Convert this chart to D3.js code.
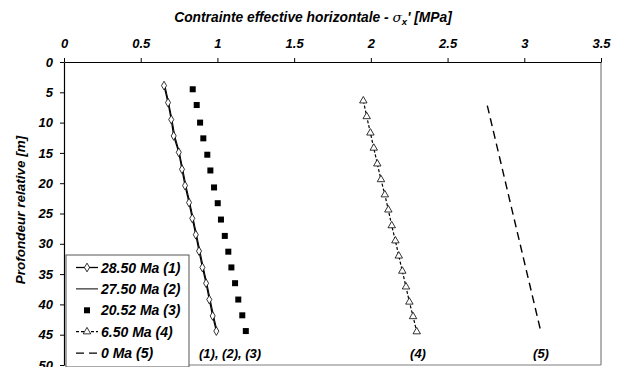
<!DOCTYPE html>
<meta charset="utf-8">
<style>
  body { margin: 0; background: #fff; }
  svg { display: block; }
  text { font-family: "Liberation Sans", Arial, sans-serif; font-weight: bold; font-style: italic; }
  .axis text { font-size: 13px; fill: #000; }
  .axis path, .axis line { stroke: #000; }
</style>
<svg width="617" height="367"></svg>
<script src="https://d3js.org/d3.v7.min.js"></script>
<script>
  // values (x = stress in MPa, depth in m)
  var xTicks = [0, 0.5, 1, 1.5, 2, 2.5, 3, 3.5];
  var yTicks = [0, 5, 10, 15, 20, 25, 30, 35, 40, 45, 50];

  var depth1 = [3.9, 6.7, 9.5, 12.2, 14.9, 17.7, 20.4, 23.2, 25.8, 28.5, 31.2, 33.9, 36.5, 39.2, 41.9, 44.4];
  var s1 = [0.652, 0.678, 0.699, 0.715, 0.748, 0.769, 0.789, 0.815, 0.836, 0.859, 0.880, 0.902, 0.926, 0.947, 0.969, 0.993];
  var s2 = [0.658, 0.682, 0.704, 0.722, 0.752, 0.774, 0.795, 0.820, 0.842, 0.864, 0.886, 0.908, 0.931, 0.953, 0.975, 0.998];
  var depth3 = [4.5, 7.1, 10.0, 12.6, 15.3, 17.9, 20.7, 23.3, 26.0, 28.7, 31.3, 33.9, 36.5, 39.2, 41.8, 44.4];
  var s3 = [0.839, 0.865, 0.887, 0.908, 0.934, 0.954, 0.978, 1.002, 1.023, 1.048, 1.071, 1.091, 1.115, 1.136, 1.162, 1.185];
  var depth4 = [6.4, 9.0, 11.7, 14.2, 16.8, 19.4, 21.9, 24.4, 27.0, 29.5, 32.0, 34.5, 37.1, 39.6, 42.0, 44.5];
  var s4 = [1.951, 1.973, 1.997, 2.019, 2.042, 2.066, 2.091, 2.114, 2.136, 2.160, 2.182, 2.205, 2.229, 2.251, 2.275, 2.299];
  var depth5 = [7.2, 44.5];
  var s5 = [2.759, 3.108];

  var legendLabels = ["28.50 Ma (1)", "27.50 Ma (2)", "20.52 Ma (3)", "6.50 Ma (4)", "0 Ma (5)"];

  var svg = d3.select("svg");
  var x = d3.scaleLinear().domain([0, 3.5]).range([64, 601]);
  var y = d3.scaleLinear().domain([0, 50]).range([62, 365]);

  // frame (right & bottom grey)
  svg.append("line").attr("x1", x(3.5)).attr("x2", x(3.5)).attr("y1", y(0)).attr("y2", y(50))
    .attr("stroke", "#7f7f7f").attr("stroke-width", 1.2);
  svg.append("line").attr("x1", x(0)).attr("x2", x(3.5)).attr("y1", y(50)).attr("y2", y(50))
    .attr("stroke", "#7f7f7f").attr("stroke-width", 1.2);

  svg.append("g").attr("class", "axis")
    .attr("transform", "translate(0," + y(0) + ")")
    .call(d3.axisTop(x).tickValues(xTicks).tickSize(4).tickSizeOuter(0).tickPadding(10).tickFormat(d3.format("")))
    .call(function (g) { g.select(".domain").attr("stroke-width", 1.2); });

  svg.append("g").attr("class", "axis")
    .attr("transform", "translate(" + x(0) + ",0)")
    .call(d3.axisLeft(y).tickValues(yTicks).tickSize(4).tickSizeOuter(0).tickPadding(7))
    .call(function (g) { g.select(".domain").attr("stroke-width", 1.2); });

  // titles
  var title = svg.append("text").attr("x", 313).attr("y", 22).attr("text-anchor", "middle")
    .style("font-size", "13.8px");
  title.append("tspan").text("Contrainte effective horizontale - ");
  title.append("tspan").text("σ").style("font-family", "'DejaVu Serif', 'Liberation Serif', serif").style("font-weight", "normal");
  title.append("tspan").text("x").attr("dy", 3).style("font-size", "9.5px");
  title.append("tspan").text("' [MPa]").attr("dy", -3);

  svg.append("text").attr("transform", "translate(25,210) rotate(-90)")
    .attr("text-anchor", "middle").style("font-size", "13.5px")
    .text("Profondeur relative [m]");

  function pts(xs, ds) { return xs.map(function (v, i) { return [v, ds[i]]; }); }
  var line = d3.line().x(function (d) { return x(d[0]); }).y(function (d) { return y(d[1]); });

  var p1 = pts(s1, depth1), p2 = pts(s2, depth1), p3 = pts(s3, depth3), p4 = pts(s4, depth4), p5 = pts(s5, depth5);

  svg.append("path").datum(p2).attr("d", line).attr("fill", "none").attr("stroke", "#000").attr("stroke-width", 1);
  svg.append("path").datum(p1).attr("d", line).attr("fill", "none").attr("stroke", "#000").attr("stroke-width", 1.3);
  svg.append("path").datum(p4).attr("d", line).attr("fill", "none").attr("stroke", "#000").attr("stroke-width", 1.2)
    .attr("stroke-dasharray", "3,2");
  svg.append("path").datum(p5).attr("d", line).attr("fill", "none").attr("stroke", "#000").attr("stroke-width", 1.4)
    .attr("stroke-dasharray", "8,5");

  var diamond = d3.symbol().type(d3.symbolDiamond).size(22);
  var tri = d3.symbol().type(d3.symbolTriangle).size(24);

  svg.append("g").selectAll("path").data(p1).join("path")
    .attr("transform", function (d) { return "translate(" + x(d[0]) + "," + y(d[1]) + ")"; })
    .attr("d", diamond).attr("fill", "#fff").attr("stroke", "#000").attr("stroke-width", 0.8);

  svg.append("g").selectAll("rect").data(p3).join("rect")
    .attr("x", function (d) { return x(d[0]) - 3; }).attr("y", function (d) { return y(d[1]) - 3; })
    .attr("width", 6).attr("height", 6).attr("fill", "#000");

  svg.append("g").selectAll("path").data(p4).join("path")
    .attr("transform", function (d) { return "translate(" + x(d[0]) + "," + y(d[1]) + ")"; })
    .attr("d", tri).attr("fill", "#fff").attr("stroke", "#000").attr("stroke-width", 0.8);

  // curve labels
  svg.append("text").attr("x", 199).attr("y", 358).style("font-size", "13px").text("(1), (2), (3)");
  svg.append("text").attr("x", 418).attr("y", 358).attr("text-anchor", "middle").style("font-size", "13px").text("(4)");
  svg.append("text").attr("x", 541).attr("y", 358).attr("text-anchor", "middle").style("font-size", "13px").text("(5)");

  // legend
  var lg = svg.append("g");
  lg.append("rect").attr("x", 66).attr("y", 255).attr("width", 123).attr("height", 112)
    .attr("fill", "#fff").attr("stroke", "#555").attr("stroke-width", 1);
  var rowY = function (i) { return 267.5 + i * 21.4; };
  legendLabels.forEach(function (t, i) {
    var yy = rowY(i);
    lg.append("text").attr("x", 101).attr("y", yy + 5).style("font-size", "14px").text(t);
  });
  lg.append("line").attr("x1", 76).attr("x2", 98).attr("y1", rowY(0)).attr("y2", rowY(0)).attr("stroke", "#000").attr("stroke-width", 1.3);
  lg.append("path").attr("transform", "translate(87," + rowY(0) + ")").attr("d", diamond).attr("fill", "#fff").attr("stroke", "#000").attr("stroke-width", 0.8);
  lg.append("line").attr("x1", 76).attr("x2", 98).attr("y1", rowY(1)).attr("y2", rowY(1)).attr("stroke", "#000").attr("stroke-width", 1);
  lg.append("rect").attr("x", 84).attr("y", rowY(2) - 3).attr("width", 6).attr("height", 6).attr("fill", "#000");
  lg.append("line").attr("x1", 76).attr("x2", 98).attr("y1", rowY(3)).attr("y2", rowY(3)).attr("stroke", "#000").attr("stroke-width", 1.2).attr("stroke-dasharray", "3,2");
  lg.append("path").attr("transform", "translate(87," + rowY(3) + ")").attr("d", tri).attr("fill", "#fff").attr("stroke", "#000").attr("stroke-width", 0.8);
  lg.append("line").attr("x1", 76).attr("x2", 98).attr("y1", rowY(4)).attr("y2", rowY(4)).attr("stroke", "#000").attr("stroke-width", 1.4).attr("stroke-dasharray", "8,5");
</script>
